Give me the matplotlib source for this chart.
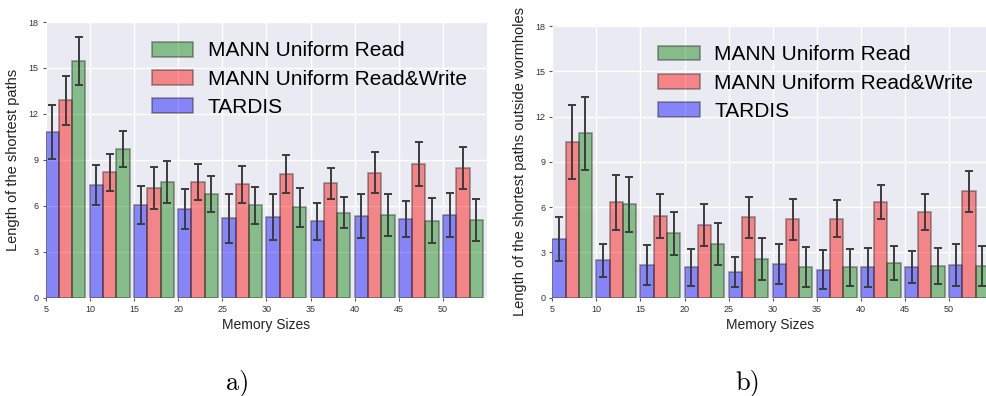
import matplotlib
matplotlib.use('Agg')
import matplotlib.pyplot as plt
from matplotlib.patches import Patch
import numpy as np

plt.rcParams['font.family'] = ['Liberation Sans', 'DejaVu Sans']

memory_sizes = [5, 10, 15, 20, 25, 30, 35, 40, 45, 50]
series_names = ["TARDIS", "MANN Uniform Read&Write", "MANN Uniform Read"]
series_colors = ["b", "r", "g"]

# panel a) length of the shortest paths
a_tardis = [10.8, 7.34, 6.05, 5.79, 5.18, 5.25, 4.98, 5.31, 5.12, 5.40]
a_tardis_err = [1.77, 1.30, 1.23, 1.33, 1.60, 1.50, 1.23, 1.44, 1.18, 1.42]
a_rw = [12.89, 8.18, 7.14, 7.55, 7.40, 8.08, 7.47, 8.16, 8.73, 8.47]
a_rw_err = [1.60, 1.20, 1.38, 1.20, 1.20, 1.27, 1.03, 1.33, 1.45, 1.40]
a_read = [15.45, 9.71, 7.57, 6.77, 6.03, 5.90, 5.55, 5.40, 5.03, 5.09]
a_read_err = [1.58, 1.20, 1.38, 1.20, 1.20, 1.26, 1.03, 1.34, 1.45, 1.38]

# panel b) length of the shortest paths outside wormholes
b_tardis = [3.89, 2.47, 2.16, 2.01, 1.70, 2.25, 1.86, 2.01, 2.03, 2.16]
b_tardis_err = [1.49, 1.10, 1.35, 1.25, 1.02, 1.32, 1.28, 1.27, 1.04, 1.41]
b_rw = [10.34, 6.32, 5.39, 4.81, 5.32, 5.19, 5.23, 6.34, 5.68, 7.04]
b_rw_err = [2.46, 1.84, 1.45, 1.41, 1.37, 1.34, 1.23, 1.15, 1.19, 1.36]
b_read = [10.89, 6.18, 4.28, 3.58, 2.58, 2.05, 2.01, 2.30, 2.12, 2.08]
b_read_err = [2.44, 1.83, 1.42, 1.40, 1.38, 1.33, 1.21, 1.13, 1.18, 1.33]

bar_w = 1.5
bg = "#EAEAF2"


def draw_panel(ax, series, errs, ylabel, xmax, legend_anchor):
    ax.set_facecolor(bg)
    ax.set_axisbelow(True)
    ax.grid(True, color="white", linewidth=1.0)
    x = np.array(memory_sizes, dtype=float)
    for i, (vals, err) in enumerate(zip(series, errs)):
        ax.bar(x + i * bar_w, vals, width=bar_w, align="edge",
               color=series_colors[i], alpha=0.43,
               edgecolor="#222222", linewidth=1.2,
               yerr=err,
               error_kw=dict(ecolor="#3c3c3c", elinewidth=1.4,
                             capsize=3, capthick=1.4))
    ax.set_xlim(5, xmax)
    ax.set_ylim(0, 18)
    ax.set_xticks(memory_sizes)
    ax.set_yticks(range(0, 19, 3))
    ax.tick_params(axis="both", labelsize=6.5, length=2, width=0.8,
                   color="#555555", labelcolor="#333333", pad=3)
    for s in ax.spines.values():
        s.set_visible(False)
    ax.set_xlabel("Memory Sizes", fontsize=10, color="#222222", labelpad=3)
    ax.set_ylabel(ylabel, fontsize=10.5, color="#222222", labelpad=6)

    handles = [Patch(facecolor=series_colors[i], alpha=0.43,
                     edgecolor="#222222", linewidth=1.2) for i in (2, 1, 0)]
    labels = [series_names[i] for i in (2, 1, 0)]
    ax.legend(handles, labels, loc="upper left", bbox_to_anchor=legend_anchor,
              frameon=False, fontsize=15, handlelength=2.0,
              handleheight=0.72, handletextpad=0.7, labelspacing=0.45,
              borderaxespad=0)


fig = plt.figure(figsize=(9.87, 3.96), dpi=100)
ax_a = fig.add_axes([0.0463, 0.2482, 0.4474, 0.6962])
ax_b = fig.add_axes([0.5596, 0.2482, 0.4404, 0.6861])

draw_panel(ax_a, [a_tardis, a_rw, a_read], [a_tardis_err, a_rw_err, a_read_err],
           "Length of the shortest paths", 55.0, (0.221, 0.96))
draw_panel(ax_b, [b_tardis, b_rw, b_read], [b_tardis_err, b_rw_err, b_read_err],
           "Length of the shortest paths outside wormholes", 54.3, (0.224, 0.96))

fig.text(0.2411, 0.035, "a)", family="cmr10", fontsize=19, ha="center", va="center")
fig.text(0.758, 0.035, "b)", family="cmr10", fontsize=19, ha="center", va="center")

fig.savefig("out.png", dpi=100, facecolor="white")
